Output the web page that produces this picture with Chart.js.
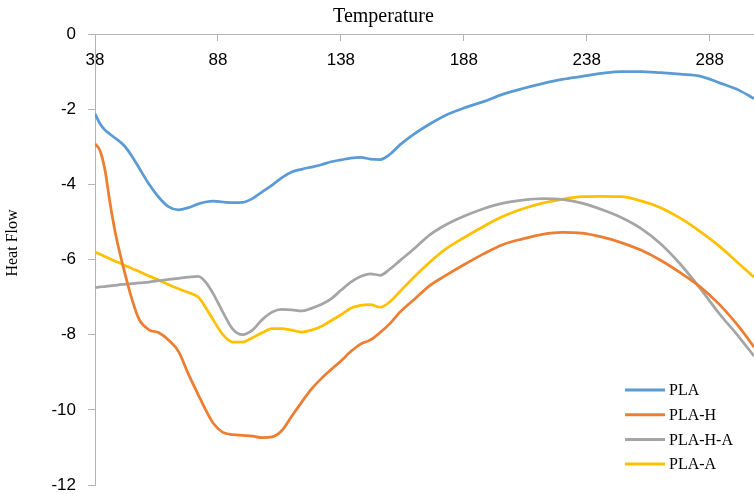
<!DOCTYPE html>
<html>
<head>
<meta charset="utf-8">
<script src="https://cdn.jsdelivr.net/npm/chart.js@4.4.1/dist/chart.umd.min.js"></script>
<style>
  html, body { margin: 0; padding: 0; background: #fff; }
  #heatChart { display: block; }
</style>
</head>
<body>
<canvas id="heatChart" width="754" height="494"></canvas>
<script>
// 温度 (共通のx値)
const temps = [38, 40, 42, 44, 46, 48, 50, 53, 56, 60, 64, 68, 72, 76, 80, 83, 86, 90, 94, 98,
  102, 106, 110, 114, 118, 122, 126, 130, 134, 138, 142, 146, 150, 154, 158, 162, 168, 174, 180, 188,
  196, 204, 212, 220, 228, 236, 244, 252, 260, 268, 276, 284, 292, 300, 306];

const pla = [-2.12, -2.38, -2.55, -2.66, -2.76, -2.86, -2.98, -3.25, -3.57, -4.0, -4.35, -4.6, -4.68, -4.62, -4.52, -4.47, -4.45, -4.47, -4.49, -4.48,
  -4.38, -4.2, -4.02, -3.82, -3.67, -3.6, -3.54, -3.48, -3.4, -3.35, -3.3, -3.28, -3.33, -3.34, -3.2, -2.95, -2.65, -2.4, -2.18, -1.97,
  -1.8, -1.6, -1.45, -1.32, -1.21, -1.13, -1.05, -1.0, -1.0, -1.03, -1.07, -1.12, -1.3, -1.5, -1.72];

const plaH = [-2.92, -3.1, -3.6, -4.45, -5.2, -5.8, -6.33, -7.05, -7.6, -7.87, -7.95, -8.15, -8.45, -9.05, -9.6, -10.0, -10.35, -10.6, -10.66, -10.68,
  -10.7, -10.74, -10.72, -10.55, -10.17, -9.8, -9.45, -9.17, -8.93, -8.7, -8.45, -8.25, -8.14, -7.94, -7.7, -7.4, -7.05, -6.7, -6.45, -6.14,
  -5.85, -5.6, -5.45, -5.33, -5.28, -5.3, -5.4, -5.55, -5.75, -6.02, -6.35, -6.72, -7.2, -7.8, -8.33];

const plaHA = [-6.75, -6.73, -6.72, -6.7, -6.69, -6.67, -6.66, -6.64, -6.62, -6.6, -6.56, -6.53, -6.5, -6.47, -6.45, -6.6, -6.9, -7.4, -7.85, -8.0,
  -7.88, -7.6, -7.4, -7.33, -7.34, -7.37, -7.3, -7.2, -7.05, -6.82, -6.6, -6.45, -6.38, -6.42, -6.25, -6.03, -5.7, -5.35, -5.1, -4.85,
  -4.65, -4.5, -4.42, -4.38, -4.4, -4.5, -4.67, -4.88, -5.17, -5.58, -6.12, -6.76, -7.45, -8.07, -8.57];

const plaA = [-5.8, -5.86, -5.92, -5.98, -6.04, -6.09, -6.15, -6.24, -6.32, -6.44, -6.55, -6.67, -6.78, -6.88, -7.0, -7.28, -7.6, -8.0, -8.2, -8.2,
  -8.08, -7.95, -7.84, -7.84, -7.88, -7.93, -7.88, -7.78, -7.63, -7.47, -7.3, -7.22, -7.2, -7.27, -7.12, -6.85, -6.45, -6.08, -5.75, -5.42,
  -5.12, -4.85, -4.65, -4.5, -4.4, -4.33, -4.32, -4.33, -4.44, -4.62, -4.9, -5.25, -5.65, -6.12, -6.47];

const seriesNames = ['PLA', 'PLA-H', 'PLA-H-A', 'PLA-A'];
const seriesColors = ['#5b9bd5', '#ed7d31', '#a5a5a5', '#ffc000'];
const xTicks = [38, 88, 138, 188, 238, 288];

const toPoints = (vals) => temps.map((t, i) => ({ x: t, y: vals[i] }));

// 軸タイトルと凡例を描くプラグイン
const labelsPlugin = {
  id: 'labels',
  afterDraw(chart) {
    const ctx = chart.ctx;
    ctx.save();
    ctx.fillStyle = '#000';
    ctx.font = '20px "Liberation Serif", "Times New Roman", serif';
    ctx.textAlign = 'center';
    ctx.textBaseline = 'alphabetic';
    ctx.fillText('Temperature', 383.5, 21.5);

    ctx.save();
    ctx.translate(13, 243);
    ctx.rotate(-Math.PI / 2);
    ctx.font = '16px "Liberation Serif", "Times New Roman", serif';
    ctx.textBaseline = 'middle';
    ctx.fillText('Heat Flow', 0, 0);
    ctx.restore();

    // 凡例
    ctx.font = '16px "Liberation Serif", "Times New Roman", serif';
    ctx.textAlign = 'left';
    ctx.textBaseline = 'middle';
    chart.data.datasets.forEach((ds, i) => {
      const y = 390 + i * 24.7;
      ctx.strokeStyle = ds.borderColor;
      ctx.lineWidth = 3;
      ctx.beginPath();
      ctx.moveTo(625, y);
      ctx.lineTo(665, y);
      ctx.stroke();
      ctx.fillStyle = '#000';
      ctx.fillText(ds.label, 669, y + 1);
    });
    ctx.restore();
  }
};

const ctx = document.getElementById('heatChart').getContext('2d');
new Chart(ctx, {
  type: 'line',
  data: {
    datasets: [pla, plaH, plaHA, plaA].map((vals, i) => ({
      label: seriesNames[i],
      data: toPoints(vals),
      borderColor: seriesColors[i],
      backgroundColor: seriesColors[i],
      borderWidth: 2.75,
      pointRadius: 0,
      fill: false,
      cubicInterpolationMode: 'monotone'
    }))
  },
  options: {
    responsive: false,
    animation: false,
    devicePixelRatio: 1,
    layout: { padding: { top: 34, right: 0, bottom: 9, left: 0 } },
    plugins: {
      legend: { display: false },
      tooltip: { enabled: false }
    },
    scales: {
      x: {
        type: 'linear',
        position: { y: 0 },
        min: 38,
        max: 306,
        afterBuildTicks: (scale) => {
          scale.ticks = xTicks.map(v => ({ value: v }));
        },
        afterFit: (scale) => { scale.height = 0; },
        grid: { drawOnChartArea: false, drawTicks: true, tickLength: 6, color: '#b3b3b3' },
        border: { display: true, color: '#b3b3b3', width: 1 },
        ticks: {
          padding: 10,
          maxRotation: 0,
          autoSkip: false,
          color: '#000',
          font: { family: '"Liberation Sans", Arial, sans-serif', size: 17 }
        }
      },
      y: {
        type: 'linear',
        position: 'left',
        min: -12,
        max: 0,
        afterFit: (scale) => {
          scale.width = 95;
          scale.paddingTop = 0;
          scale.paddingBottom = 0;
        },
        grid: { drawOnChartArea: false, drawTicks: true, tickLength: 7, color: '#b3b3b3' },
        border: { display: true, color: '#b3b3b3', width: 1 },
        ticks: {
          stepSize: 2,
          padding: 12,
          color: '#000',
          font: { family: '"Liberation Sans", Arial, sans-serif', size: 17 }
        }
      }
    }
  },
  plugins: [labelsPlugin]
});
</script>
</body>
</html>
